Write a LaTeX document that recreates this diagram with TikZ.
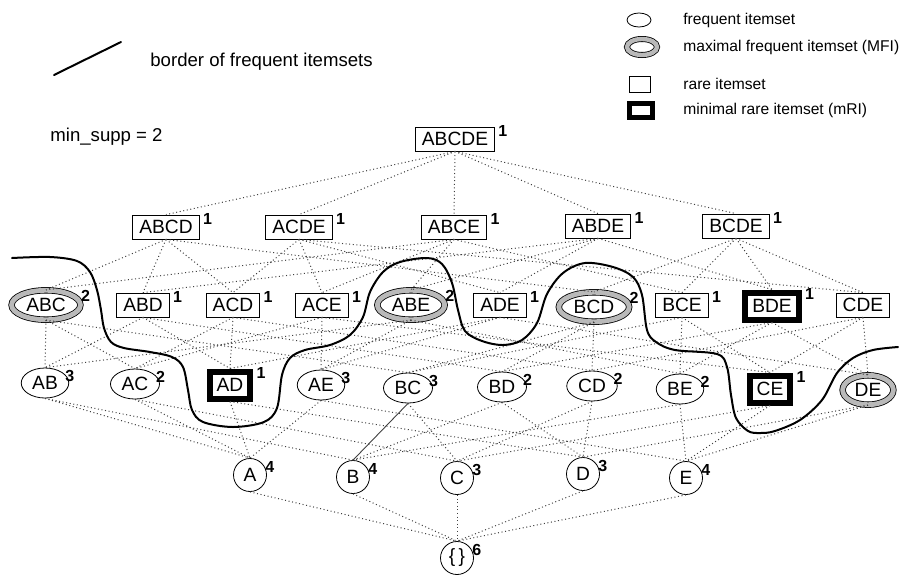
\documentclass[tikz,border=0pt]{standalone}
\usepackage{fontspec}
\setmainfont{Liberation Sans}
\usetikzlibrary{shapes.geometric}

\begin{document}
\begin{tikzpicture}[x=0.5pt,y=-0.5pt,
    every node/.style={font=\fontsize{9.6}{11}\selectfont},
    freq/.style={ellipse, draw, fill=white, inner xsep=2pt, inner ysep=0pt, minimum height=15pt},
    mfi/.style={ellipse, draw, double=gray!55, double distance=2.4pt, fill=white, inner xsep=2.3pt, inner ysep=0pt, minimum height=14.7pt},
    rare/.style={rectangle, draw, fill=white, inner xsep=3.3pt, inner ysep=0pt, minimum height=12pt},
    mri/.style={rectangle, draw, line width=3pt, fill=white, inner xsep=3.5pt, inner ysep=0pt, minimum height=13.5pt},
    one/.style={circle, draw, fill=white, inner sep=0pt, minimum size=16.5pt},
    cnt/.style={font=\fontsize{8}{9}\selectfont\bfseries, inner sep=0pt, anchor=west, xshift=1.5pt, yshift=-2pt},
    cntm/.style={cnt, xshift=3.5pt, yshift=1pt},
    lnk/.style={draw=black!75, dash pattern=on 0.5pt off 1.3pt, line width=0.5pt},
    fborder/.style={line width=1pt, line join=round, line cap=round},
    legtext/.style={font=\fontsize{7.8}{9}\selectfont, anchor=west, inner sep=0pt}
]
\useasboundingbox (0,0) rectangle (899,574);

% legend
\coordinate (k1) at (54,75);
\coordinate (k2) at (121,42);
\draw[fborder] (k1) -- (k2);
\node[anchor=west, inner sep=0pt, font=\fontsize{9.3}{11}\selectfont] (kborder) at (150,62) {border of frequent itemsets};
\node[anchor=west, inner sep=0pt, font=\fontsize{9.3}{11}\selectfont] (minsupp) at (50,137) {min\_supp = 2};

\node[freq, minimum width=12pt, minimum height=7pt] (kfreq) at (639,20) {};
\node[legtext] at (683,20) {frequent itemset};
\node[mfi, minimum width=15pt, minimum height=8pt, double distance=2.2pt] (kmfi) at (642,47) {};
\node[legtext] at (683,47) {maximal frequent itemset (MFI)};
\node[rare, minimum width=10.5pt, minimum height=8pt] (krare) at (640,84) {};
\node[legtext] at (683,84) {rare itemset};
\node[mri, minimum width=11.5pt, minimum height=7pt, line width=2.5pt] (kmri) at (641,110) {};
\node[legtext] at (683,110) {minimal rare itemset (mRI)};

% level 5 and 4
\node[rare, label={[cnt]north east:1}] (ABCDE) at (455,139) {ABCDE};
\node[rare, label={[cnt]north east:1}] (ABCD) at (166,227) {ABCD};
\node[rare, label={[cnt]north east:1}] (ACDE) at (299,227) {ACDE};
\node[rare, label={[cnt]north east:1}] (ABCE) at (454,227) {ABCE};
\node[rare, label={[cnt]north east:1}] (ABDE) at (598,226) {ABDE};
\node[rare, label={[cnt]north east:1}] (BCDE) at (736,226) {BCDE};

% level 3
\node[mfi, label={[cntm]north east:2}] (ABC) at (46,305) {ABC};
\node[rare, label={[cnt]north east:1}] (ABD) at (143,305) {ABD};
\node[rare, label={[cnt]north east:1}] (ACD) at (233,305) {ACD};
\node[rare, label={[cnt]north east:1}] (ACE) at (322,305) {ACE};
\node[mfi, label={[cntm]north east:2}] (ABE) at (411,305) {ABE};
\node[rare, label={[cnt]north east:1}] (ADE) at (500,305) {ADE};
\node[mfi, label={[cntm]north east:2}] (BCD) at (594,307) {BCD};
\node[rare, label={[cnt]north east:1}] (BCE) at (682,305) {BCE};
\node[mri, label={[cnt]north east:1}] (BDE) at (772,306) {BDE};
\node[rare] (CDE) at (863,305) {CDE};

% level 2
\node[freq, label={[cnt]north east:3}] (AB) at (45,383) {AB};
\node[freq, label={[cnt]north east:2}] (AC) at (135,384) {AC};
\node[mri, label={[cnt]north east:1}] (AD) at (230,385) {AD};
\node[freq, label={[cnt]north east:3}] (AE) at (321,385) {AE};
\node[freq, label={[cnt]north east:3}] (BC) at (408,388) {BC};
\node[freq, label={[cnt]north east:2}] (BD) at (502,387) {BD};
\node[freq, label={[cnt]north east:2}] (CD) at (592,386) {CD};
\node[freq, label={[cnt]north east:2}] (BE) at (680,389) {BE};
\node[mri, label={[cnt]north east:1}] (CE) at (770,389) {CE};
\node[mfi] (DE) at (868,390) {DE};

% level 1 and 0
\node[one, label={[cnt]north east:4}] (A) at (250,475) {A};
\node[one, label={[cnt]north east:4}] (B) at (353,477) {B};
\node[one, label={[cnt]north east:3}] (C) at (457,478) {C};
\node[one, label={[cnt]north east:3}] (D) at (583,474) {D};
\node[one, label={[cnt]north east:4}] (E) at (686,478) {E};
\node[one, label={[cnt]north east:6}] (none) at (457,558) {\{\,\}};

% lattice edges
\foreach \u/\ls in {ABCDE/{ABCD,ACDE,ABCE,ABDE,BCDE},
    ABCD/{ABC,ABD,ACD,BCD}, ACDE/{ACD,ACE,ADE,CDE}, ABCE/{ABC,ABE,ACE,BCE},
    ABDE/{ABD,ABE,ADE,BDE}, BCDE/{BCD,BCE,BDE,CDE},
    ABC/{AB,AC,BC}, ABD/{AB,AD,BD}, ACD/{AC,AD,CD}, ACE/{AC,AE,CE}, ABE/{AB,AE,BE},
    ADE/{AD,AE,DE}, BCD/{BC,BD,CD}, BCE/{BC,BE,CE}, BDE/{BD,BE,DE}, CDE/{CD,CE,DE},
    AB/{A,B}, AC/{A,C}, AD/{A,D}, AE/{A,E}, BC/{C}, BD/{B,D}, CD/{C,D}, BE/{B,E},
    CE/{C,E}, DE/{D,E},
    A/{none}, B/{none}, C/{none}, D/{none}, E/{none}}
  \foreach \l in \ls
    \draw[lnk] (\u.south) -- (\l.north);
\draw[black!75, line width=0.45pt] (BC.south) -- (B.north);

% border of frequent itemsets
\draw[fborder] plot[smooth, tension=0.55] coordinates {
    (12,258) (50,257) (77,261) (90,272) (97,290) (101,310) (104,328) (111,342)
    (124,348) (150,352) (172,357) (183,367) (188,390) (192,410) (203,422) (233,427)
    (264,422) (277,408) (282,375) (290,358) (305,350) (330,345) (350,335) (363,317)
    (370,292) (383,272) (400,262) (427,258) (442,264) (452,283) (458,310) (465,331)
    (482,341) (503,345) (522,340) (537,323) (547,294) (563,273) (585,263) (613,267)
    (633,277) (642,295) (647,330) (656,342) (675,350) (717,354) (727,367) (731,395)
    (736,418) (748,431) (760,433) (775,431) (800,420) (822,400) (837,373) (853,358)
    (873,350) (898,347)};
\end{tikzpicture}
\end{document}
